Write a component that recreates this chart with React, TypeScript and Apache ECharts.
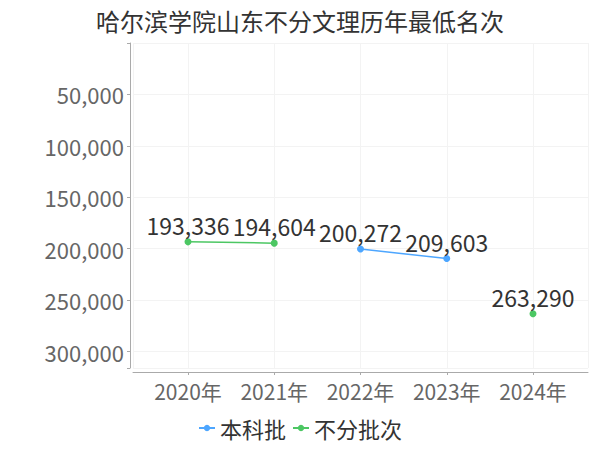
import React, { useEffect, useRef } from "react";
import * as echarts from "echarts";

const title = "哈尔滨学院山东不分文理历年最低名次";
const years = ["2020年", "2021年", "2022年", "2023年", "2024年"];
const seriesNames = ["本科批", "不分批次"];
const benkepi: (number | null)[] = [null, null, 200272, 209603, null];
const bufenpici: (number | null)[] = [193336, 194604, null, null, 263290];
const yTicks = [50000, 100000, 150000, 200000, 250000, 300000];
const colors = ["#4DA6FF", "#4CC763"];

const fmt = (v: number) => v.toLocaleString("en-US");

export default function App() {
  const ref = useRef<HTMLDivElement>(null);
  useEffect(() => {
    document.body.style.margin = "0";
    if (!ref.current) return;
    const chart = echarts.init(ref.current, null, { renderer: "svg" });
    const font = "'Noto Sans CJK SC', 'Noto Sans', sans-serif";
    const axisColor = "#aaa";
    const splitColor = "#f3f3f3";
    const mk = (name: string, arr: (number | null)[], color: string) => ({
      name,
      type: "line",
      xAxisIndex: 1,
      yAxisIndex: 1,
      data: arr.map((v) => (v === null ? "-" : v)),
      symbol: "circle",
      symbolSize: 7,
      connectNulls: false,
      itemStyle: { color },
      lineStyle: { color, width: 1.5 },
      label: {
        show: true,
        position: "top",
        distance: 2,
        fontSize: 23,
        color: "#333",
        fontFamily: font,
        formatter: (p: any) => fmt(p.value),
      },
    });
    chart.setOption({
      animation: false,
      textStyle: { fontFamily: font },
      title: {
        text: title,
        left: "center",
        top: 3,
        textStyle: { fontSize: 24, fontWeight: "normal", color: "#333", fontFamily: font },
      },
      legend: {
        data: seriesNames,
        bottom: 6,
        left: "center",
        itemWidth: 16,
        itemHeight: 8,
        itemGap: 6,
        textStyle: { fontSize: 22, color: "#333", fontFamily: font },
      },
      grid: [
        { left: 133, right: 12, top: 43, bottom: 82, containLabel: false },
        { left: 188, right: 67, top: 43, bottom: 82, containLabel: false },
      ],
      xAxis: [
        {
          type: "value",
          gridIndex: 0,
          min: 0,
          max: 1,
          interval: 1,
          offset: 4,
          axisLine: { show: true, onZero: false, lineStyle: { color: axisColor } },
          axisTick: { show: false },
          axisLabel: { show: false },
          splitLine: { show: true, lineStyle: { color: splitColor } },
        },
        {
          type: "category",
          gridIndex: 1,
          data: years,
          boundaryGap: false,
          offset: 4,
          axisLine: { show: false, onZero: false },
          axisTick: { show: true, interval: 0, length: 3, lineStyle: { color: axisColor } },
          axisLabel: { interval: 0, fontSize: 21, color: "#666", margin: 8, fontFamily: font },
          splitLine: { show: true, interval: 0, lineStyle: { color: splitColor } },
        },
      ],
      yAxis: [
        {
          type: "value",
          gridIndex: 0,
          inverse: true,
          min: 0,
          max: 316000,
          interval: 50000,
          offset: 3,
          axisLine: { show: true, onZero: false, lineStyle: { color: axisColor } },
          axisTick: { show: true, length: 3, lineStyle: { color: axisColor } },
          axisLabel: {
            fontSize: 22,
            color: "#666",
            margin: 6,
            fontFamily: font,
            formatter: (v: number) => (yTicks.includes(v) ? fmt(v) : ""),
          },
          splitLine: { show: true, lineStyle: { color: splitColor } },
        },
        {
          type: "value",
          gridIndex: 1,
          inverse: true,
          min: 0,
          max: 316000,
          interval: 50000,
          axisLine: { show: false, onZero: false },
          axisTick: { show: false },
          axisLabel: { show: false },
          splitLine: { show: false },
        },
      ],
      series: [mk(seriesNames[0], benkepi, colors[0]), mk(seriesNames[1], bufenpici, colors[1])],
    });
    return () => chart.dispose();
  }, []);
  return <div ref={ref} style={{ width: 600, height: 450 }} />;
}
